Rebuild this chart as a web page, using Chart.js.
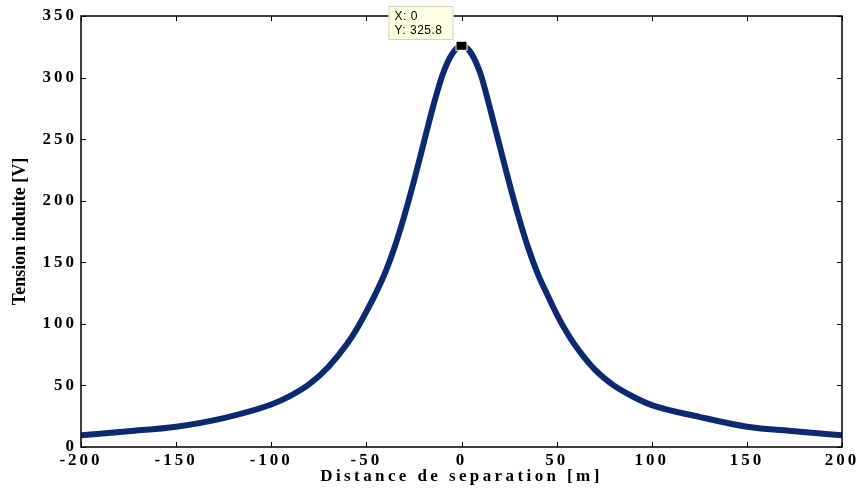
<!DOCTYPE html>
<html>
<head>
<meta charset="utf-8">
<script src="https://cdn.jsdelivr.net/npm/chart.js@4"></script>
<style>
  html, body { margin: 0; padding: 0; background: #ffffff; }
  #wrap { width: 862px; height: 490px; }
</style>
</head>
<body>
<div id="wrap"><canvas id="tension_chart" width="862" height="490"></canvas></div>
<script>
// values
var distances = [-200, -175, -150, -125, -100, -90, -80, -70, -60, -55, -50, -45, -40, -35, -30, -25, -20, -15, -10, -5, 0,
                 5, 10, 15, 20, 25, 30, 35, 40, 45, 50, 55, 60, 70, 80, 90, 100, 125, 150, 175, 200];
var tensions  = [9.5, 12.8, 16.5, 23.5, 34.5, 41.5, 51, 65, 84, 96, 110, 125, 142, 163, 188, 216, 246, 276, 302, 319, 325.8,
                 320, 303, 275, 245, 215, 187, 162, 141, 124, 108, 94, 82, 63, 50, 41, 34, 24.5, 16.5, 12.8, 9.5];
var xTicks = [-200, -150, -100, -50, 0, 50, 100, 150, 200];
var yTicks = [0, 50, 100, 150, 200, 250, 300, 350];
var tipIndex = 20; // point with the data tip

var lineColor = '#0a2a72';
var serif = "'Liberation Serif', 'Times New Roman', serif";

var matlabFrame = {
    id: 'matlabFrame',
    beforeDraw(chart) {
        chart.ctx.letterSpacing = '3px';
    },
    afterDraw(chart) {
        var ctx = chart.ctx;
        var area = chart.chartArea;
        var xs = chart.scales.x, ys = chart.scales.y;
        ctx.save();
        ctx.letterSpacing = '0px';
        ctx.strokeStyle = '#000';
        ctx.lineWidth = 1.5;
        ctx.strokeRect(area.left, area.top, area.right - area.left, area.bottom - area.top);

        // inward tick marks on all four sides
        ctx.lineWidth = 1;
        ctx.beginPath();
        for (var v of xTicks) {
            var px = Math.round(xs.getPixelForValue(v)) + 0.5;
            ctx.moveTo(px, area.bottom); ctx.lineTo(px, area.bottom - 5);
            ctx.moveTo(px, area.top); ctx.lineTo(px, area.top + 5);
        }
        for (var w of yTicks) {
            var py = Math.round(ys.getPixelForValue(w)) + 0.5;
            ctx.moveTo(area.left, py); ctx.lineTo(area.left + 5, py);
            ctx.moveTo(area.right, py); ctx.lineTo(area.right - 5, py);
        }
        ctx.stroke();

        // axis titles
        ctx.fillStyle = '#000';
        ctx.font = 'bold 17px ' + serif;
        ctx.textAlign = 'center';
        ctx.textBaseline = 'middle';
        ctx.letterSpacing = '3.4px';
        ctx.fillText('Distance de separation [m]', (area.left + area.right) / 2, 477);
        ctx.letterSpacing = '0px';
        ctx.save();
        ctx.translate(20, (area.top + area.bottom) / 2);
        ctx.rotate(-Math.PI / 2);
        ctx.font = 'bold 18px ' + serif;
        ctx.fillText('Tension induite [V]', 0, 0);
        ctx.restore();

        // data tip
        var mx = xs.getPixelForValue(distances[tipIndex]);
        var my = ys.getPixelForValue(tensions[tipIndex]);
        ctx.fillStyle = '#ffffe6';
        ctx.fillRect(mx - 6, my - 5, 12, 10);
        ctx.fillStyle = '#000';
        ctx.fillRect(mx - 5, my - 4, 10, 8);

        var bx = mx - 73, by = 6;
        ctx.fillStyle = '#ffffe1';
        ctx.fillRect(bx, by, 65, 34);
        ctx.strokeStyle = '#d4d4c0';
        ctx.strokeRect(bx + 0.5, by + 0.5, 64, 33);
        ctx.fillStyle = '#000';
        ctx.font = "12px 'Liberation Sans', Arial, sans-serif";
        ctx.textAlign = 'left';
        ctx.textBaseline = 'alphabetic';
        ctx.letterSpacing = '0.5px';
        ctx.fillText('X: ' + distances[tipIndex], bx + 6, by + 14);
        ctx.fillText('Y: ' + tensions[tipIndex], bx + 6, by + 28);
        ctx.restore();
    }
};

var points = distances.map(function (d, i) { return { x: d, y: tensions[i] }; });

new Chart(document.getElementById('tension_chart').getContext('2d'), {
    type: 'line',
    data: {
        datasets: [{
            data: points,
            borderColor: lineColor,
            borderWidth: 6,
            pointRadius: 0,
            fill: false,
            cubicInterpolationMode: 'monotone'
        }]
    },
    options: {
        responsive: false,
        animation: false,
        events: [],
        layout: { padding: { top: 16, right: 20, bottom: 0, left: 0 } },
        plugins: { legend: { display: false }, tooltip: { enabled: false } },
        scales: {
            x: {
                type: 'linear',
                min: -200,
                max: 200,
                grid: { display: false, drawTicks: false },
                border: { display: false },
                afterBuildTicks(scale) { scale.ticks = xTicks.map(function (v) { return { value: v }; }); },
                afterFit(scale) { scale.height = 43; },
                ticks: {
                    color: '#000',
                    font: { family: serif, size: 17, weight: 'bold' },
                    padding: 3,
                    maxRotation: 0
                }
            },
            y: {
                type: 'linear',
                min: 0,
                max: 350,
                grid: { display: false, drawTicks: false },
                border: { display: false },
                afterBuildTicks(scale) { scale.ticks = yTicks.map(function (v) { return { value: v }; }); },
                afterFit(scale) { scale.width = 81; },
                ticks: {
                    color: '#000',
                    font: { family: serif, size: 17, weight: 'bold' },
                    padding: 4
                }
            }
        }
    },
    plugins: [matlabFrame]
});
</script>
</body>
</html>
